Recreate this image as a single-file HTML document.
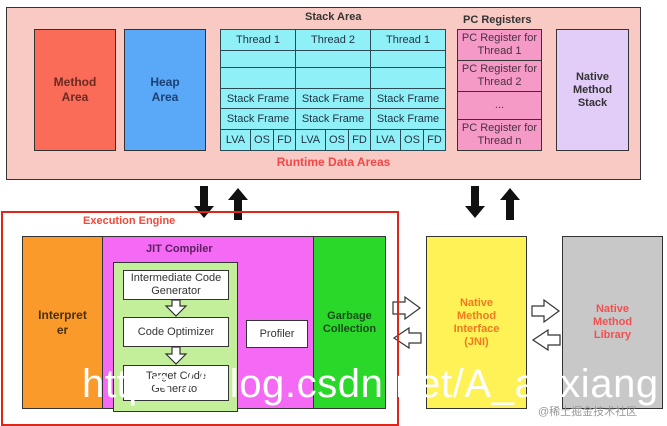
<!DOCTYPE html>
<html><head><meta charset="utf-8"><style>
body{margin:0;width:667px;height:420px;overflow:hidden;background:#fff;font-family:"Liberation Sans","DejaVu Sans",sans-serif;position:relative}
div{box-sizing:border-box}
.a{position:absolute}
.b{border:1.5px solid #333}
.c{display:flex;align-items:center;justify-content:center;text-align:center}
.bold{font-weight:bold}
.cell{position:absolute;border:1px solid #2a4a55;background:#8ff0f8;font-size:11px;color:#234;display:flex;align-items:center;justify-content:center}
.pc{position:absolute;border:1px solid #333;background:#f59ac6;font-size:11px;color:#4a3040;display:flex;align-items:center;justify-content:center;text-align:center;line-height:13px;left:457px;width:85px}
.w{position:absolute;background:#fff;border:1.5px solid #333;font-size:11px;color:#333;display:flex;align-items:center;justify-content:center;text-align:center;line-height:13px}
</style></head><body>
<div class="a b" style="left:6px;top:7px;width:635px;height:173px;background:#f9c9c4"></div>
<div class="a bold" style="left:305px;top:11px;font-size:11px;color:#333">Stack Area</div>
<div class="a bold" style="left:463px;top:14px;font-size:11px;color:#333">PC Registers</div>
<div class="a b c bold" style="left:34px;top:29px;width:82px;height:122px;background:#fa6b58;color:#6b2a20;font-size:12px;line-height:15px">Method<br>Area</div>
<div class="a b c bold" style="left:124px;top:29px;width:82px;height:122px;background:#5aa8f8;color:#1e4070;font-size:12px;line-height:15px">Heap<br>Area</div>
<div class="cell" style="left:220px;top:29px;width:76px;height:22px">Thread 1</div>
<div class="cell" style="left:295px;top:29px;width:76px;height:22px">Thread 2</div>
<div class="cell" style="left:370px;top:29px;width:76px;height:22px">Thread 1</div>
<div class="cell" style="left:220px;top:50px;width:76px;height:18px"></div>
<div class="cell" style="left:295px;top:50px;width:76px;height:18px"></div>
<div class="cell" style="left:370px;top:50px;width:76px;height:18px"></div>
<div class="cell" style="left:220px;top:67px;width:76px;height:22px"></div>
<div class="cell" style="left:295px;top:67px;width:76px;height:22px"></div>
<div class="cell" style="left:370px;top:67px;width:76px;height:22px"></div>
<div class="cell" style="left:220px;top:88px;width:76px;height:21px">Stack Frame</div>
<div class="cell" style="left:295px;top:88px;width:76px;height:21px">Stack Frame</div>
<div class="cell" style="left:370px;top:88px;width:76px;height:21px">Stack Frame</div>
<div class="cell" style="left:220px;top:108px;width:76px;height:22px">Stack Frame</div>
<div class="cell" style="left:295px;top:108px;width:76px;height:22px">Stack Frame</div>
<div class="cell" style="left:370px;top:108px;width:76px;height:22px">Stack Frame</div>
<div class="cell" style="left:220px;top:129px;width:31px;height:22px">LVA</div>
<div class="cell" style="left:250px;top:129px;width:24px;height:22px">OS</div>
<div class="cell" style="left:273px;top:129px;width:23px;height:22px">FD</div>
<div class="cell" style="left:295px;top:129px;width:31px;height:22px">LVA</div>
<div class="cell" style="left:325px;top:129px;width:24px;height:22px">OS</div>
<div class="cell" style="left:348px;top:129px;width:23px;height:22px">FD</div>
<div class="cell" style="left:370px;top:129px;width:31px;height:22px">LVA</div>
<div class="cell" style="left:400px;top:129px;width:24px;height:22px">OS</div>
<div class="cell" style="left:423px;top:129px;width:23px;height:22px">FD</div>
<div class="pc" style="top:29px;height:32px">PC Register for<br>Thread 1</div>
<div class="pc" style="top:60px;height:32px">PC Register for<br>Thread 2</div>
<div class="pc" style="top:91px;height:29px">...</div>
<div class="pc" style="top:119px;height:32px">PC Register for<br>Thread n</div>
<div class="a b c bold" style="left:556px;top:29px;width:73px;height:122px;background:#e2ccf8;color:#333;font-size:11px;line-height:13px">Native<br>Method<br>Stack</div>
<div class="a bold" style="left:0;width:667px;text-align:center;top:155px;font-size:12px;color:#f24848">Runtime Data Areas</div>
<svg class="a" style="left:0;top:0" width="667" height="420">
<g fill="#111">
<polygon points="200,186 208,186 208,206 214,206 204,218 194,206 200,206"/>
<polygon points="234,220 242,220 242,200 248,200 238,188 228,200 234,200"/>
<polygon points="471,186 479,186 479,206 485,206 475,218 465,206 471,206"/>
<polygon points="506,220 514,220 514,200 520,200 510,188 500,200 506,200"/>
</g>
<g fill="#fff" stroke="#333" stroke-width="1.2">
<polygon points="393,302 405,302 405,297 420,308 405,319 405,314 393,314"/>
<polygon points="421,333 409,333 409,328 394,338 409,348 409,343 421,343"/>
<polygon points="532,306 544,306 544,300 559,311 544,322 544,316 532,316"/>
<polygon points="560,335 548,335 548,330 533,340 548,350 548,345 560,345"/>
</g>
</svg>
<div class="a" style="left:1px;top:211px;width:398px;height:215px;border:2px solid #e0261a"></div>
<div class="a bold" style="left:83px;top:215px;font-size:11px;color:#f04a3a">Execution Engine</div>
<div class="a b c bold" style="left:22px;top:236px;width:81px;height:173px;background:#f99a2a;color:#4a3010;font-size:12px;line-height:15px">Interpret<br>er</div>
<div class="a b" style="left:102px;top:236px;width:212px;height:173px;background:#f56af5"></div>
<div class="a bold" style="left:146px;top:243px;font-size:11px;color:#5a2060">JIT Compiler</div>
<div class="a b" style="left:113px;top:262px;width:125px;height:150px;background:#c4ef9a"></div>
<div class="w" style="left:123px;top:270px;width:106px;height:30px">Intermediate Code<br>Generator</div>
<div class="w" style="left:123px;top:317px;width:106px;height:30px">Code Optimizer</div>
<div class="w" style="left:123px;top:365px;width:106px;height:36px">Target Code<br>Generator</div>
<div class="w" style="left:246px;top:320px;width:62px;height:28px">Profiler</div>
<svg class="a" style="left:0;top:0" width="667" height="420"><g fill="#fff" stroke="#333" stroke-width="1.2">
<polygon points="172,300 180,300 180,306 186,306 176,316 166,306 172,306"/>
<polygon points="172,347 180,347 180,354 186,354 176,364 166,354 172,354"/></g></svg>
<div class="a b c bold" style="left:313px;top:236px;width:73px;height:173px;background:#2ad82a;color:#1a4a1a;font-size:11px;line-height:13px">Garbage<br>Collection</div>
<div class="a b c bold" style="left:426px;top:236px;width:101px;height:173px;background:#fef257;color:#f07a20;font-size:11px;line-height:13px">Native<br>Method<br>Interface<br>(JNI)</div>
<div class="a b c bold" style="left:562px;top:236px;width:101px;height:173px;background:#c8c8c8;color:#f25050;font-size:11px;line-height:13px">Native<br>Method<br>Library</div>
<div class="a" style="left:82px;top:362px;font-size:40px;color:#fff;white-space:nowrap;letter-spacing:0.6px">https://blog.csdn.net/A_anxiang</div>
<div class="a" style="left:538px;top:403px;font-size:11px;color:#999;font-family:'Liberation Sans','Noto Sans CJK SC',sans-serif">@稀土掘金技术社区</div>
</body></html>
